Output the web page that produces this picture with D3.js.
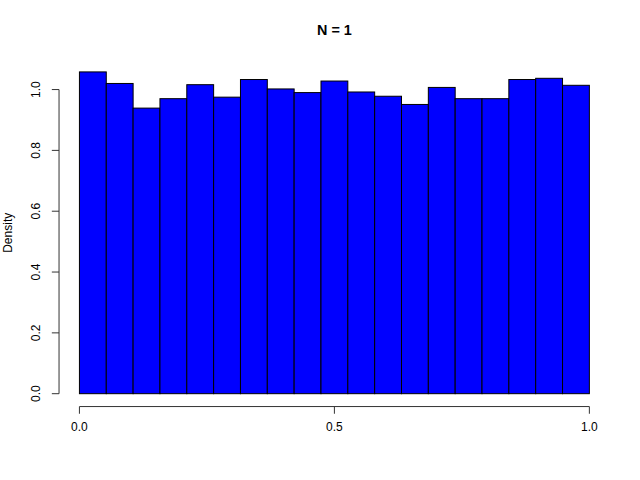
<!DOCTYPE html>
<html><head><meta charset="utf-8">
<script src="https://cdn.jsdelivr.net/npm/d3@7"></script>
<style>body{margin:0;background:#fff}text{font-family:"Liberation Sans",Arial,sans-serif}</style>
</head><body>
<script>
const binStarts = [0,1,2,3,4,5,6,7,8,9,10,11,12,13,14,15,16,17,18].map(i=>i/19);
const binWidth = 1/19;
const densities = [1.058,1.020,0.939,0.970,1.016,0.975,1.033,1.002,0.990,1.028,0.992,0.978,0.951,1.007,0.970,0.970,1.033,1.037,1.014];
const xTicks = [0, 0.5, 1];
const xTickLabels = ["0.0","0.5","1.0"];
const yTicks = [0, 0.2, 0.4, 0.6, 0.8, 1.0];
const yTickLabels = ["0.0","0.2","0.4","0.6","0.8","1.0"];
const title = "N = 1";
const yLabel = "Density";

const W=640,H=480;
const L=59.04,R=609.76,T=59.04,B=406.56;
const ymax=d3.max(densities);
const x=d3.scaleLinear().domain([-0.04,1.04]).range([L,R]);
const y=d3.scaleLinear().domain([-0.04*ymax,ymax*1.04]).range([B,T]);
const svg=d3.select("body").append("svg").attr("width",W).attr("height",H);

svg.append("g").selectAll("rect").data(densities).join("rect")
 .attr("x",(d,i)=>x(binStarts[i]))
 .attr("width",(d,i)=>x(binStarts[i]+binWidth)-x(binStarts[i]))
 .attr("y",d=>y(d)).attr("height",d=>y(0)-y(d))
 .attr("fill","#0000FF").attr("stroke","#000").attr("stroke-width",1);

// x axis
const gx=svg.append("g");
gx.append("line").attr("x1",x(0)).attr("x2",x(1)).attr("y1",B).attr("y2",B).attr("stroke","#333");
gx.selectAll("line.t").data(xTicks).join("line").attr("class","t")
 .attr("x1",d=>x(d)).attr("x2",d=>x(d)).attr("y1",B).attr("y2",B+7.2).attr("stroke","#333");
gx.selectAll("text").data(xTicks).join("text")
 .attr("x",d=>x(d)).attr("y",B+24.5).attr("text-anchor","middle").attr("font-size",12)
 .text((d,i)=>xTickLabels[i]);

// y axis
const gy=svg.append("g");
gy.append("line").attr("x1",L).attr("x2",L).attr("y1",y(0)).attr("y2",y(1)).attr("stroke","#333");
gy.selectAll("line.t").data(yTicks).join("line").attr("class","t")
 .attr("x1",L).attr("x2",L-7.2).attr("y1",d=>y(d)).attr("y2",d=>y(d)).attr("stroke","#333");
gy.selectAll("text").data(yTicks).join("text")
 .attr("transform",d=>`translate(${L-19},${y(d)}) rotate(-90)`)
 .attr("text-anchor","middle").attr("font-size",12)
 .text((d,i)=>yTickLabels[i]);

svg.append("text").attr("transform",`translate(${L-47.5},${(T+B)/2}) rotate(-90)`)
 .attr("text-anchor","middle").attr("font-size",12).text(yLabel);
svg.append("text").attr("x",(L+R)/2).attr("y",35).attr("text-anchor","middle")
 .attr("font-size",14.4).attr("font-weight","bold").text(title);
</script>
</body></html>
